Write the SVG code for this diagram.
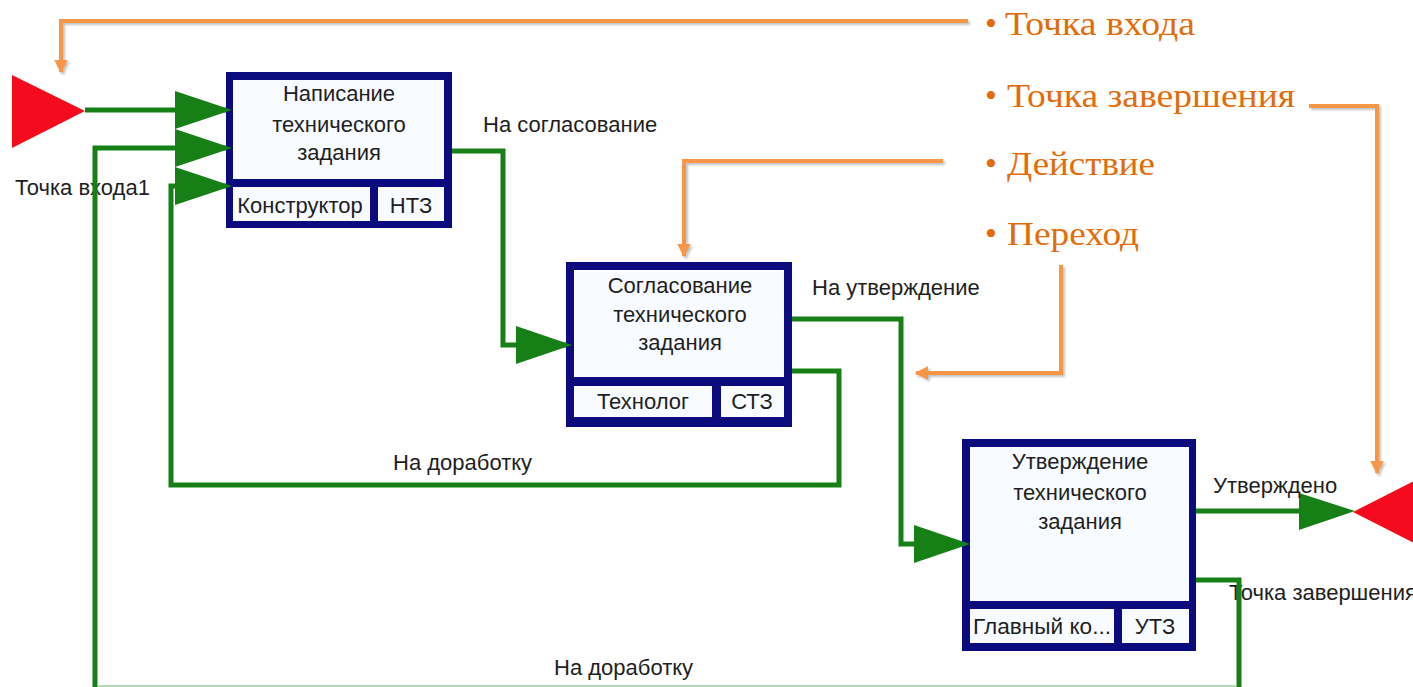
<svg xmlns="http://www.w3.org/2000/svg" width="1413" height="687" viewBox="0 0 1413 687">
<defs>
<style>
.frame{fill:#0b0b7d}
.panel{fill:#f8fbff}
.t{font-family:"Liberation Sans",Arial,sans-serif;font-size:22px;fill:#1e1e1e}
.c{text-anchor:middle}
.flow{fill:none;stroke:#168016;stroke-width:5;stroke-linejoin:miter}
.head{fill:#168016}
.note{fill:none;stroke:#f79646;stroke-width:4}
.bul{font-family:"Liberation Serif","Times New Roman",serif;font-size:34px;fill:#e36c09}
</style>
<marker id="oa" viewBox="0 0 10 10" refX="9" refY="5" markerWidth="3.4" markerHeight="3.4" orient="auto" markerUnits="strokeWidth">
<path d="M0,0 L10,5 L0,10 z" fill="#f79646"/>
</marker>
<filter id="sh" x="-5%" y="-5%" width="110%" height="110%">
<feDropShadow dx="2" dy="2" stdDeviation="1" flood-color="#888" flood-opacity="0.5"/>
</filter>
</defs>
<rect width="1413" height="687" fill="#ffffff"/>

<g id="start">
<polygon points="12,75 12,148 85,111" fill="#f50a1e"/>
<text class="t" x="15" y="195">Точка входа1</text>
</g>

<g id="end">
<polygon points="1353,512 1426,475 1426,549" fill="#f50a1e"/>
<text class="t" x="1229" y="600">Точка завершения</text>
</g>

<g id="node1">
<rect class="frame" x="226" y="72" width="226" height="156"/>
<rect class="panel" x="233" y="80" width="211" height="99"/>
<rect class="panel" x="233" y="187" width="137" height="34"/>
<rect class="panel" x="378" y="187" width="66" height="34"/>
<text class="t c" x="339" y="101">Написание</text>
<text class="t c" x="339" y="132">технического</text>
<text class="t c" x="339" y="160">задания</text>
<text class="t c" x="300" y="213">Конструктор</text>
<text class="t c" x="411" y="213">НТЗ</text>
</g>

<g id="node2">
<rect class="frame" x="566" y="262" width="226" height="165"/>
<rect class="panel" x="574" y="270" width="210" height="107"/>
<rect class="panel" x="574" y="386" width="138" height="31"/>
<rect class="panel" x="721" y="386" width="63" height="31"/>
<text class="t c" x="680" y="293">Согласование</text>
<text class="t c" x="680" y="322">технического</text>
<text class="t c" x="680" y="350">задания</text>
<text class="t c" x="643" y="409">Технолог</text>
<text class="t c" x="752" y="409">СТЗ</text>
</g>

<g id="node3">
<rect class="frame" x="962" y="439" width="234" height="212"/>
<rect class="panel" x="970" y="447" width="219" height="154"/>
<rect class="panel" x="970" y="609" width="144" height="34"/>
<rect class="panel" x="1122" y="609" width="67" height="34"/>
<text class="t c" x="1080" y="469">Утверждение</text>
<text class="t c" x="1080" y="500">технического</text>
<text class="t c" x="1080" y="529">задания</text>
<text class="t c" x="1042" y="634" textLength="138" lengthAdjust="spacingAndGlyphs">Главный ко...</text>
<text class="t c" x="1155" y="634">УТЗ</text>
</g>

<g id="connectors">
<path class="flow" d="M85,110 H226"/>
<polygon class="head" points="175,91 232,110 175,129"/>
<path class="flow" d="M1196,580 H1239 V689 H95 V148 H226"/>
<path d="M97.5,686 H1236.5" fill="none" stroke="#b3d9b3" stroke-width="2"/>
<polygon class="head" points="175,129 232,148 175,167"/>
<path class="flow" d="M792,371 H839 V485 H171 V186 H226"/>
<polygon class="head" points="175,167 232,186 175,205"/>
<path class="flow" d="M452,151 H503 V345 H566"/>
<polygon class="head" points="516,326 572,345 516,364"/>
<path class="flow" d="M792,319 H901 V544 H962"/>
<polygon class="head" points="914,525 970,544 914,563"/>
<path class="flow" d="M1196,511 H1310"/>
<polygon class="head" points="1299,493 1355,511 1299,530"/>
<text class="t" x="483" y="132">На согласование</text>
<text class="t" x="812" y="295">На утверждение</text>
<text class="t" x="393" y="470">На доработку</text>
<text class="t" x="554" y="675">На доработку</text>
<text class="t" x="1213" y="493">Утверждено</text>
</g>

<g id="legend">
<g filter="url(#sh)">
<path class="note" d="M968,21 H61 V72" marker-end="url(#oa)"/>
<path class="note" d="M1309,106 H1377 V473" marker-end="url(#oa)"/>
<path class="note" d="M943,161 H684 V256" marker-end="url(#oa)"/>
<path class="note" d="M1061,265 V373 H916" marker-end="url(#oa)"/>
</g>
<text class="bul" x="985" y="35">•</text>
<text class="bul" x="1005" y="35" textLength="190" lengthAdjust="spacingAndGlyphs">Точка входа</text>
<text class="bul" x="985" y="107">•</text>
<text class="bul" x="1007" y="107" textLength="288" lengthAdjust="spacingAndGlyphs">Точка завершения</text>
<text class="bul" x="985" y="175">•</text>
<text class="bul" x="1007" y="175" textLength="148" lengthAdjust="spacingAndGlyphs">Действие</text>
<text class="bul" x="985" y="245">•</text>
<text class="bul" x="1007" y="245" textLength="132" lengthAdjust="spacingAndGlyphs">Переход</text>
</g>
</svg>
